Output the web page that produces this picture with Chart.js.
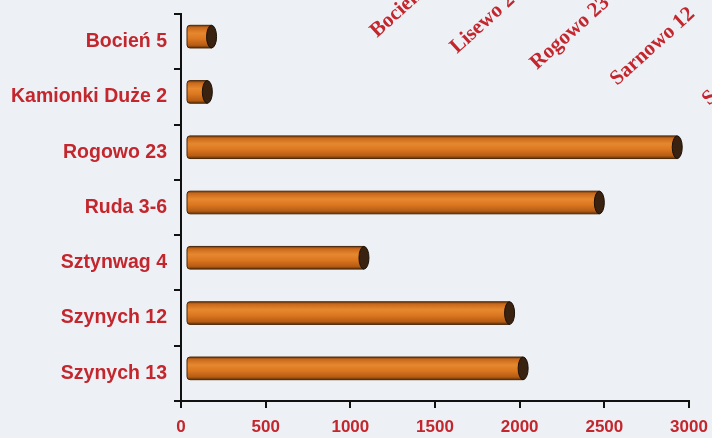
<!DOCTYPE html>
<html>
<head>
<meta charset="utf-8">
<script src="https://cdn.jsdelivr.net/npm/chart.js@4"></script>
<style>
  html, body { margin: 0; padding: 0; background: #edf0f5; }
  canvas { display: block; }
</style>
</head>
<body>
<canvas id="myChart" width="712" height="438"></canvas>
<script>
const sites = ["Bocień 5", "Kamionki Duże 2", "Rogowo 23", "Ruda 3-6", "Sztynwag 4", "Szynych 12", "Szynych 13"];
const values = [210, 185, 2960, 2500, 1110, 1970, 2050];
const xTicks = [0, 500, 1000, 1500, 2000, 2500, 3000];
// labels of the neighbouring chart, cut off at the top of the scan
const topLabels = ["Bocień 5", "Lisewo 2", "Rogowo 23", "Sarnowo 12", "Szynych 12"];

const red = '#c3262c';

// background of the scan
const paper = {
    id: 'paper',
    beforeDraw(chart) {
        const c = chart.ctx;
        c.save();
        c.fillStyle = '#edf0f5';
        c.fillRect(0, 0, chart.width, chart.height);
        c.restore();
    }
};

// cylinder shaped bars, drawn on the bar elements that chart.js lays out
const cylinders = {
    id: 'cylinders',
    afterDatasetsDraw(chart) {
        const c = chart.ctx;
        const shift = 5;
        chart.getDatasetMeta(0).data.forEach(bar => {
            const p = bar.getProps(['x', 'y', 'base', 'height'], true);
            const h = p.height;
            const cy = p.y - shift;
            const top = cy - h / 2;
            const rx = 5;
            const left = p.base + 5;
            const right = p.x - rx;

            const g = c.createLinearGradient(0, top, 0, top + h);
            g.addColorStop(0, '#6e3a0e');
            g.addColorStop(0.1, '#c9681a');
            g.addColorStop(0.35, '#e6882f');
            g.addColorStop(0.6, '#db7720');
            g.addColorStop(0.88, '#b65c14');
            g.addColorStop(1, '#5e310c');

            c.save();
            c.beginPath();
            c.moveTo(right, top);
            c.lineTo(left + 3, top);
            c.quadraticCurveTo(left, top, left, top + 3);
            c.lineTo(left, top + h - 3);
            c.quadraticCurveTo(left, top + h, left + 3, top + h);
            c.lineTo(right, top + h);
            c.closePath();
            c.fillStyle = g;
            c.fill();
            c.lineWidth = 1;
            c.strokeStyle = '#4a280a';
            c.stroke();

            c.beginPath();
            c.ellipse(right, cy, rx, h / 2, 0, 0, Math.PI * 2);
            c.fillStyle = '#3a2210';
            c.fill();
            c.strokeStyle = '#1c1006';
            c.stroke();
            c.restore();
        });
    }
};

// rotated labels of the other chart at the top edge
const topText = {
    id: 'topText',
    afterDraw(chart) {
        const c = chart.ctx;
        c.save();
        c.font = 'bold 21px "Liberation Serif", "DejaVu Serif", serif';
        c.fillStyle = red;
        c.textBaseline = 'alphabetic';
        topLabels.forEach((t, i) => {
            c.save();
            c.translate(377 + i * 80 + (i === 4 ? 12 : 0), 38 + i * 16 + (i === 4 ? 4 : 0));
            c.rotate(-42 * Math.PI / 180);
            c.fillText(t, 0, 0);
            c.restore();
        });
        c.restore();
    }
};

const ctx = document.getElementById('myChart').getContext('2d');
const mychart = new Chart(ctx, {
    type: 'bar',
    data: {
        labels: sites,
        datasets: [{
            data: values,
            backgroundColor: 'rgba(0,0,0,0)',
            borderWidth: 0,
            barPercentage: 0.41,
            categoryPercentage: 1
        }]
    },
    options: {
        indexAxis: 'y',
        responsive: false,
        animation: false,
        devicePixelRatio: 1,
        layout: {
            padding: { top: 14, left: 5, right: 23, bottom: 0 }
        },
        scales: {
            x: {
                min: 0,
                max: 3000,
                afterBuildTicks: s => { s.ticks = xTicks.map(v => ({ value: v })); },
                afterFit: s => { s.height = 37; s.paddingLeft = 0; s.paddingRight = 0; },
                grid: { drawOnChartArea: false, color: '#111', lineWidth: 2, tickLength: 7 },
                border: { color: '#111', width: 2 },
                ticks: {
                    color: red,
                    padding: 9,
                    callback: v => String(v),
                    font: { family: '"Liberation Sans", Arial, sans-serif', size: 17, weight: 'bold' }
                }
            },
            y: {
                afterFit: s => { s.width = 176; s.paddingTop = 0; s.paddingBottom = 0; },
                grid: { drawOnChartArea: false, offset: true, color: '#111', lineWidth: 2, tickLength: 7 },
                border: { color: '#111', width: 2 },
                ticks: {
                    color: red,
                    padding: 7,
                    font: { family: '"Liberation Sans", Arial, sans-serif', size: 19.5, weight: 'bold' }
                }
            }
        },
        plugins: {
            legend: { display: false },
            tooltip: { enabled: false },
            title: { display: false }
        }
    },
    plugins: [paper, cylinders, topText]
});
</script>
</body>
</html>
